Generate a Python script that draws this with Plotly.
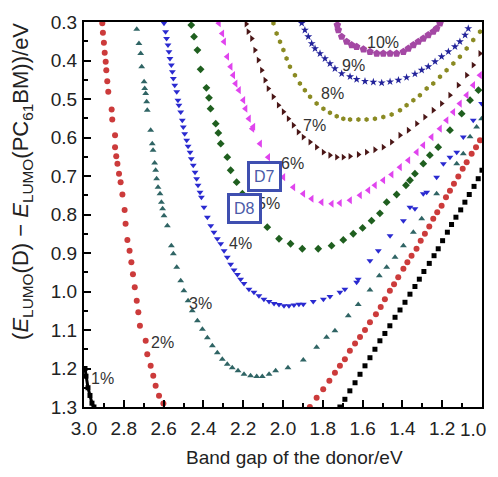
import plotly.graph_objects as go

# ---- data (x: band gap / eV, y: LUMO offset / eV) ----
# 1 %
x1a = [2.995, 2.99, 2.98, 2.97, 2.96, 2.95]
y1a = [1.20, 1.22, 1.25, 1.27, 1.29, 1.30]
x1b = [1.714, 1.689, 1.664, 1.638, 1.613, 1.588, 1.563, 1.538, 1.513, 1.488, 1.463, 1.437, 1.412, 1.387, 1.362, 1.337,
       1.315, 1.292, 1.265, 1.241, 1.22, 1.198, 1.174, 1.153, 1.131, 1.107, 1.086, 1.064, 1.04, 1.019, 1.0]
y1b = [1.30, 1.28, 1.258, 1.237, 1.215, 1.193, 1.172, 1.15, 1.128, 1.109, 1.089, 1.067, 1.048, 1.028, 1.007, 0.987,
       0.968, 0.948, 0.927, 0.907, 0.889, 0.868, 0.846, 0.826, 0.807, 0.788, 0.768, 0.748, 0.727, 0.707, 0.685]
# 2 %
x2a = [2.908, 2.905, 2.90, 2.896, 2.891, 2.888, 2.883, 2.878, 2.861, 2.858, 2.844, 2.844, 2.838, 2.832, 2.824, 2.816,
       2.807, 2.796, 2.791, 2.782, 2.771, 2.762, 2.754, 2.745, 2.735, 2.727, 2.719, 2.69, 2.682, 2.665, 2.652, 2.64,
       2.623, 2.601]
y2a = [0.303, 0.328, 0.354, 0.380, 0.403, 0.425, 0.454, 0.481, 0.527, 0.553, 0.594, 0.625, 0.649, 0.668, 0.694, 0.716,
       0.748, 0.788, 0.824, 0.866, 0.894, 0.924, 0.955, 0.989, 1.024, 1.054, 1.089, 1.128, 1.163, 1.193, 1.219, 1.245,
       1.271, 1.291]
x2b = [1.865, 1.831, 1.798, 1.767, 1.739, 1.714, 1.689, 1.664, 1.638, 1.613, 1.588, 1.563, 1.533, 1.509, 1.488, 1.463,
       1.442, 1.421, 1.395, 1.375, 1.354, 1.329, 1.308, 1.287, 1.265, 1.245, 1.225, 1.203, 1.181, 1.161, 1.141, 1.119,
       1.097, 1.077, 1.052, 1.03, 1.01]
y2b = [1.30, 1.276, 1.254, 1.232, 1.211, 1.193, 1.176, 1.154, 1.135, 1.118, 1.10, 1.08, 1.059, 1.04, 1.02, 0.998,
       0.981, 0.963, 0.941, 0.924, 0.907, 0.889, 0.868, 0.85, 0.831, 0.811, 0.794, 0.777, 0.755, 0.738, 0.72, 0.701,
       0.681, 0.664, 0.642, 0.625, 0.607]
# 3 %
x3 = [2.735, 2.724, 2.715, 2.71, 2.698, 2.695, 2.69, 2.685, 2.682, 2.665, 2.657, 2.653, 2.645, 2.64, 2.635, 2.628,
      2.618, 2.611, 2.605, 2.598, 2.581, 2.561, 2.551, 2.534, 2.514, 2.498, 2.477, 2.456, 2.43, 2.405, 2.38, 2.355,
      2.33, 2.305, 2.28, 2.255, 2.226, 2.196, 2.163, 2.132, 2.104, 2.07, 2.037, 1.975, 1.898, 1.831, 1.781, 1.739,
      1.672, 1.622, 1.563, 1.516, 1.479, 1.437, 1.395, 1.345, 1.303, 1.228, 1.127, 1.094, 1.06, 1.027, 1.002]
y3 = [0.319, 0.356, 0.382, 0.416, 0.455, 0.473, 0.486, 0.507, 0.529, 0.581, 0.616, 0.633, 0.666, 0.685, 0.707, 0.729,
      0.746, 0.768, 0.785, 0.803, 0.829, 0.881, 0.902, 0.937, 0.972, 0.998, 1.024, 1.05, 1.076, 1.098, 1.12, 1.141,
      1.159, 1.176, 1.189, 1.198, 1.206, 1.215, 1.219, 1.221, 1.221, 1.215, 1.206, 1.198, 1.178, 1.145, 1.119, 1.102,
      1.063, 1.034, 0.996, 0.959, 0.937, 0.911, 0.881, 0.846, 0.811, 0.746, 0.668, 0.642, 0.598, 0.573, 0.551]
# 4 %
x4 = [2.598, 2.59, 2.585, 2.578, 2.573, 2.568, 2.561, 2.556, 2.551, 2.544, 2.534, 2.528, 2.523, 2.514, 2.506, 2.501,
      2.494, 2.484, 2.477, 2.467, 2.461, 2.451, 2.442, 2.434, 2.427, 2.417, 2.41, 2.397, 2.38, 2.363, 2.347, 2.33,
      2.313, 2.296, 2.28, 2.263, 2.246, 2.229, 2.213, 2.196, 2.171, 2.146, 2.121, 2.096, 2.07, 2.045, 2.02, 1.995,
      1.97, 1.945, 1.92, 1.898, 1.848, 1.797, 1.764, 1.714, 1.689, 1.63, 1.622, 1.563, 1.521, 1.462, 1.395, 1.362,
      1.337, 1.295, 1.278, 1.228, 1.194, 1.161, 1.127, 1.094, 1.044, 1.002]
y4 = [0.303, 0.325, 0.343, 0.36, 0.377, 0.395, 0.412, 0.429, 0.447, 0.464, 0.481, 0.503, 0.516, 0.534, 0.555, 0.573,
      0.59, 0.607, 0.623, 0.638, 0.655, 0.672, 0.69, 0.707, 0.724, 0.742, 0.755, 0.781, 0.807, 0.829, 0.846, 0.863,
      0.876, 0.894, 0.911, 0.929, 0.944, 0.956, 0.968, 0.979, 0.994, 1.002, 1.011, 1.02, 1.026, 1.031, 1.034, 1.037,
      1.037, 1.035, 1.033, 1.033, 1.026, 1.02, 1.013, 1.002, 0.994, 0.976, 0.968, 0.92, 0.894, 0.855, 0.816, 0.781,
      0.785, 0.746, 0.742, 0.703, 0.668, 0.651, 0.638, 0.599, 0.555, 0.512]
# 5 %
x5 = [2.461, 2.447, 2.43, 2.414, 2.385, 2.372, 2.364, 2.338, 2.325, 2.313, 2.28, 2.263, 2.233, 2.204, 2.079, 2.02,
      1.962, 1.903, 1.823, 1.756, 1.697, 1.647, 1.60, 1.555, 1.513, 1.479, 1.429, 1.382, 1.362, 1.337, 1.295, 1.262,
      1.22, 1.161, 1.102, 1.06, 1.018]
y5 = [0.308, 0.338, 0.373, 0.423, 0.471, 0.497, 0.525, 0.564, 0.588, 0.616, 0.651, 0.685, 0.716, 0.746, 0.833, 0.863,
      0.876, 0.889, 0.889, 0.881, 0.866, 0.85, 0.835, 0.816, 0.797, 0.768, 0.748, 0.724, 0.711, 0.694, 0.668, 0.646,
      0.625, 0.581, 0.538, 0.503, 0.477]
# 6 %
x6 = [2.322, 2.305, 2.296, 2.28, 2.263, 2.25, 2.238, 2.221, 2.199, 2.188, 2.171, 2.154, 2.149, 2.115, 2.074, 1.998,
      1.948, 1.898, 1.856, 1.806, 1.755, 1.714, 1.663, 1.613, 1.571, 1.538, 1.496, 1.454, 1.412, 1.37, 1.328, 1.295,
      1.253, 1.211, 1.178, 1.144, 1.111, 1.077, 1.044, 1.01]
y6 = [0.303, 0.33, 0.351, 0.39, 0.416, 0.438, 0.46, 0.477, 0.503, 0.525, 0.551, 0.577, 0.572, 0.616, 0.651, 0.703,
      0.729, 0.746, 0.759, 0.768, 0.772, 0.77, 0.763, 0.75, 0.737, 0.724, 0.711, 0.696, 0.677, 0.659, 0.638, 0.62,
      0.599, 0.577, 0.555, 0.534, 0.512, 0.49, 0.464, 0.438]
# 7 %
x7 = [2.185, 2.175, 2.157, 2.141, 2.124, 2.107, 2.09, 2.074, 2.049, 2.023, 1.998, 1.973, 1.948, 1.923, 1.898, 1.864,
      1.831, 1.797, 1.764, 1.73, 1.697, 1.663, 1.621, 1.58, 1.538, 1.496, 1.454, 1.412, 1.37, 1.328, 1.287, 1.245,
      1.203, 1.161, 1.119, 1.077, 1.044, 1.01]
y7 = [0.305, 0.325, 0.343, 0.373, 0.399, 0.425, 0.451, 0.473, 0.494, 0.516, 0.533, 0.551, 0.568, 0.586, 0.599, 0.612,
      0.625, 0.638, 0.646, 0.651, 0.651, 0.649, 0.644, 0.638, 0.632, 0.625, 0.612, 0.594, 0.581, 0.564, 0.547, 0.529,
      0.512, 0.49, 0.464, 0.438, 0.412, 0.382]
# 8 %
x8 = [2.048, 2.032, 2.015, 1.998, 1.982, 1.965, 1.94, 1.915, 1.89, 1.864, 1.831, 1.797, 1.764, 1.73, 1.697, 1.663,
      1.621, 1.58, 1.538, 1.496, 1.454, 1.412, 1.379, 1.345, 1.312, 1.278, 1.245, 1.211, 1.178, 1.144, 1.111, 1.077,
      1.044, 1.01]
y8 = [0.303, 0.33, 0.351, 0.373, 0.395, 0.416, 0.438, 0.46, 0.477, 0.494, 0.512, 0.525, 0.536, 0.545, 0.551, 0.553,
      0.553, 0.553, 0.551, 0.547, 0.54, 0.529, 0.516, 0.503, 0.49, 0.473, 0.46, 0.442, 0.425, 0.408, 0.39, 0.369,
      0.347, 0.325]
# 9 %
x9 = [1.906, 1.89, 1.873, 1.856, 1.839, 1.814, 1.789, 1.764, 1.739, 1.705, 1.663, 1.63, 1.588, 1.546, 1.504, 1.462,
      1.42, 1.379, 1.337, 1.303, 1.27, 1.236, 1.203, 1.169, 1.136, 1.111, 1.085, 1.069]
y9 = [0.303, 0.321, 0.338, 0.356, 0.369, 0.382, 0.395, 0.408, 0.421, 0.434, 0.442, 0.449, 0.454, 0.456, 0.458, 0.455,
      0.451, 0.444, 0.435, 0.425, 0.416, 0.403, 0.39, 0.377, 0.364, 0.351, 0.334, 0.317]
# 10 %
x10 = [1.727, 1.722, 1.705, 1.68, 1.655, 1.63, 1.596, 1.563, 1.529, 1.496, 1.462, 1.429, 1.395, 1.37, 1.345, 1.32,
       1.295, 1.27, 1.245, 1.228, 1.211]
y10 = [0.308, 0.321, 0.338, 0.351, 0.36, 0.364, 0.371, 0.377, 0.382, 0.382, 0.382, 0.382, 0.377, 0.369, 0.36, 0.351,
       0.343, 0.334, 0.325, 0.317, 0.303]

labels = ["1%", "2%", "3%", "4%", "5%", "6%", "7%", "8%", "9%", "10%"]
label_x = [2.905, 2.608, 2.417, 2.216, 2.075, 1.95, 1.84, 1.749, 1.648, 1.497]
label_y = [1.227, 1.133, 1.032, 0.875, 0.771, 0.667, 0.568, 0.485, 0.412, 0.352]

donor_names = ["D7", "D8"]
donor_x = [2.093, 2.193]
donor_y = [0.701, 0.784]

x_ticks = [3.0, 2.8, 2.6, 2.4, 2.2, 2.0, 1.8, 1.6, 1.4, 1.2, 1.0]
y_ticks = [0.3, 0.4, 0.5, 0.6, 0.7, 0.8, 0.9, 1.0, 1.1, 1.2, 1.3]

x_title = "Band gap of the donor/eV"
y_title = "(<i>E</i><sub>LUMO</sub>(D) − <i>E</i><sub>LUMO</sub>(PC<sub>61</sub>BM))/eV"

# ---- styling ----
series = [
    ((x1a, y1a), "#000000", "square", 5),
    ((x1b, y1b), "#000000", "square", 5),
    ((x2a, y2a), "#cc3b3b", "circle", 6),
    ((x2b, y2b), "#cc3b3b", "circle", 6),
    ((x3, y3), "#2f6464", "triangle-up", 6),
    ((x4, y4), "#2a2ad0", "triangle-down", 6),
    ((x5, y5), "#1f5f1f", "diamond", 6),
    ((x6, y6), "#e044ee", "triangle-left", 7),
    ((x7, y7), "#4a1616", "triangle-right", 6),
    ((x8, y8), "#8a8a22", "hexagon", 5),
    ((x9, y9), "#22229a", "star", 6),
    ((x10, y10), "#a448a4", "pentagon", 8),
]

fig = go.Figure()
fig.add_trace(go.Scatter(x=x1a, y=y1a, mode="lines", line=dict(color="black", width=3),
                         showlegend=False, hoverinfo="skip"))
for (xs, ys), col, sym, sz in series:
    fig.add_trace(go.Scatter(x=xs, y=ys, mode="markers",
                             marker=dict(symbol=sym, size=sz, color=col, line=dict(width=0)),
                             showlegend=False, hoverinfo="skip"))

lab_font = dict(family="Liberation Sans, Arial", size=16, color="#333333")
for t, lx, ly in zip(labels, label_x, label_y):
    fig.add_annotation(x=lx, y=ly, text=t, showarrow=False, font=lab_font)

for t, dx, dy in zip(donor_names, donor_x, donor_y):
    fig.add_annotation(x=dx, y=dy, text=t, showarrow=False,
                       font=dict(family="Liberation Sans, Arial", size=16, color="#4a5aa8"),
                       bgcolor="white", bordercolor="#3f4fb0", borderwidth=3, borderpad=4)

tick_font = dict(family="Liberation Sans, Arial", size=19, color="#222222")

# axis titles placed as paper annotations
fig.add_annotation(xref="paper", yref="paper", x=0.528, y=-0.132, text=x_title, showarrow=False,
                   xanchor="center", yanchor="middle",
                   font=dict(family="Liberation Sans, Arial", size=19, color="#222222"))
fig.add_annotation(xref="paper", yref="paper", x=-0.156, y=0.587, text=y_title, showarrow=False,
                   textangle=-90, xanchor="center", yanchor="middle",
                   font=dict(family="Liberation Sans, Arial", size=22, color="#222222"))
# last x tick label kept fully inside the visible window
fig.add_annotation(xref="paper", yref="paper", x=1.015, y=-0.058, text=f"{x_ticks[-1]:.1f}",
                   showarrow=False, xanchor="right", yanchor="middle", font=tick_font)

fig.update_xaxes(range=[3.0, 1.0], tickvals=x_ticks,
                 ticktext=[f"{v:.1f}" for v in x_ticks[:-1]] + [""],
                 ticks="inside", ticklen=7, tickwidth=1.5, tickcolor="black",
                 minor=dict(ticks="inside", ticklen=4, tickcolor="black", dtick=0.1, tick0=1.0),
                 showline=True, linewidth=2, linecolor="black", mirror=True, automargin=False,
                 showgrid=False, zeroline=False, tickfont=tick_font, ticklabelstandoff=3)
fig.update_yaxes(range=[1.3, 0.3], tickvals=y_ticks, ticktext=[f"{v:.1f}" for v in y_ticks],
                 ticks="inside", ticklen=7, tickwidth=1.5, tickcolor="black",
                 minor=dict(ticks="inside", ticklen=4, tickcolor="black", dtick=0.05, tick0=0.3),
                 showline=True, linewidth=2, linecolor="black", mirror=True, automargin=False,
                 showgrid=False, zeroline=False, tickfont=tick_font, ticklabelstandoff=1)

# the page body has an 8 px margin; keep the page within the window
fig.update_layout(width=490, height=461, margin=dict(l=76, r=16, t=14, b=62),
                  plot_bgcolor="white", paper_bgcolor="white")
fig.write_html("out.html")
